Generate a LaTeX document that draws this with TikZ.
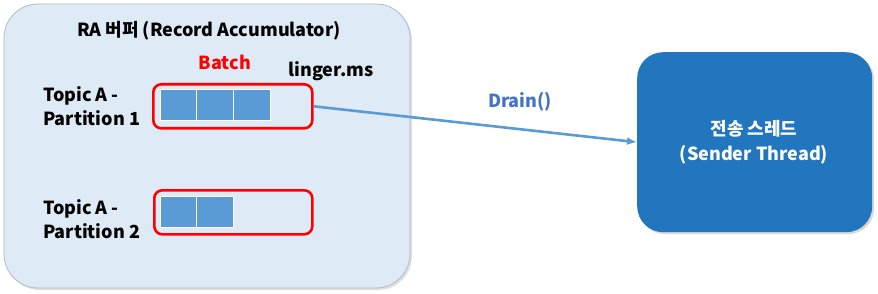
\documentclass[tikz,border=0pt]{standalone}
\usepackage{fontspec}
\setmainfont{Noto Sans CJK KR}[BoldFont={* Black}]
\usetikzlibrary{shadows,arrows.meta}
\definecolor{rabg}{HTML}{DEEAF6}
\definecolor{raline}{HTML}{B4BCC6}
\definecolor{cell}{HTML}{5B9BD5}
\definecolor{sender}{HTML}{2276BD}
\definecolor{drain}{HTML}{4472C4}
\definecolor{batchred}{HTML}{FF0000}
\tikzset{
  rabox/.style={draw=raline, line width=0.8pt, fill=rabg, rounded corners=34pt},
  batchbox/.style={draw=batchred, line width=2.6pt, rounded corners=8pt},
  cellbox/.style={draw=white, line width=1pt, fill=cell},
  sendbox/.style={fill=sender, rounded corners=26pt, drop shadow={opacity=0.3, shadow xshift=2pt, shadow yshift=-2pt}},
  lbl/.style={font=\bfseries\fontsize{18}{21}\selectfont, inner sep=0pt},
  conn/.style={draw=cell, line width=2.6pt, -{Latex[length=10pt,width=8pt]}}
}
\begin{document}
\begin{tikzpicture}[x=1pt,y=-1pt]
\useasboundingbox (0,0) rectangle (878,294);
\fill[white] (0,0) rectangle (878,294);
% RA buffer
\path[rabox, drop shadow={opacity=0.25, shadow xshift=2pt, shadow yshift=-2pt}] (4,4) rectangle (410,288);
\node[lbl, anchor=center] (title) at (209,31) {RA 버퍼 (Record Accumulator)};
\node[lbl, text=batchred] (batchlbl) at (225,62) {Batch};
\node[lbl] (linger) at (331,71) {linger.ms};
\node[lbl, anchor=west, align=left] (p1lbl) at (43,106) {Topic A -\\[3pt]Partition 1};
\node[lbl, anchor=west, align=left] (p2lbl) at (43,219) {Topic A -\\[3pt]Partition 2};
% batch 1
\node[batchbox, minimum width=159pt, minimum height=44pt, anchor=north west, inner sep=0pt] (b1) at (152,83) {};
\path[cellbox] (160,90) rectangle (196.5,121);
\path[cellbox] (196.5,90) rectangle (233,121);
\path[cellbox] (233,90) rectangle (270,121);
% batch 2
\node[batchbox, minimum width=158pt, minimum height=44pt, anchor=north west, inner sep=0pt] (b2) at (153,189) {};
\path[cellbox] (160,196) rectangle (196.5,227);
\path[cellbox] (196.5,196) rectangle (233,227);
% sender
\node[sendbox, minimum width=235pt, minimum height=180pt, anchor=north west, inner sep=0pt] (snd) at (637,52) {};
\node[lbl, text=white, align=center] (sndlbl) at (754,142) {전송 스레드\\[4pt](Sender Thread)};
% connector
\draw[conn] (b1.east) -- (snd.west);
\node[lbl, text=drain] (drainlbl) at (520,102) {Drain()};
\end{tikzpicture}
\end{document}
